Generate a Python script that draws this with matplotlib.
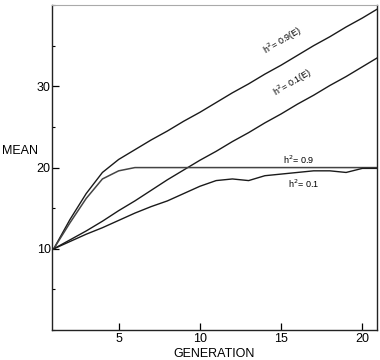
import matplotlib.pyplot as plt
from matplotlib.ticker import MultipleLocator

plt.rcParams['font.family'] = ['Liberation Sans', 'DejaVu Sans']

# Generations and mean values
generation = list(range(1, 22))
mean_h09_e = [10, 13.6, 16.8, 19.4, 21.0, 22.2, 23.4, 24.5, 25.7, 26.8, 28.0,
              29.2, 30.3, 31.5, 32.6, 33.8, 35.0, 36.1, 37.3, 38.4, 39.6]
mean_h01_e = [10, 11.1, 12.2, 13.4, 14.7, 15.9, 17.2, 18.5, 19.7, 20.9, 22.0,
              23.2, 24.3, 25.5, 26.6, 27.8, 28.9, 30.1, 31.2, 32.4, 33.6]
mean_h09 = [10, 13.2, 16.2, 18.6, 19.6, 20.0, 20.0, 20.0, 20.0, 20.0, 20.0,
            20.0, 20.0, 20.0, 20.0, 20.0, 20.0, 20.0, 20.0, 20.0, 20.0]
mean_h01 = [10, 10.9, 11.8, 12.6, 13.5, 14.4, 15.2, 15.9, 16.8, 17.7, 18.4,
            18.6, 18.4, 19.0, 19.2, 19.4, 19.6, 19.6, 19.4, 19.9, 19.9]

fig = plt.figure(figsize=(3.8, 3.6), dpi=100)
ax = fig.add_axes([0.137, 0.083, 0.855, 0.903])

ax.plot(generation, mean_h09_e, color='#1a1a1a', lw=1.0)
ax.plot(generation, mean_h01_e, color='#1a1a1a', lw=1.0)
ax.plot(generation, mean_h09, color='#444444', lw=1.1)
ax.plot(generation, mean_h01, color='#1a1a1a', lw=1.0)

ax.text(15.1, 35.6, 'h$^2$= 0.9(E)', fontsize=6.5, rotation=31, ha='center', va='center')
ax.text(15.7, 30.5, 'h$^2$= 0.1(E)', fontsize=6.5, rotation=31, ha='center', va='center')
ax.text(16.1, 21.0, 'h$^2$= 0.9', fontsize=6.5, ha='center', va='center')
ax.text(16.4, 18.0, 'h$^2$= 0.1', fontsize=6.5, ha='center', va='center')

ax.set_xlim(0.9, 20.9)
ax.set_ylim(0, 40)
ax.set_xticks([5, 10, 15, 20])
ax.set_yticks([10, 20, 30])
ax.yaxis.set_minor_locator(MultipleLocator(5))
ax.tick_params(axis='both', which='major', direction='in', length=5, width=0.9,
               labelsize=9, pad=2)
ax.tick_params(axis='y', which='minor', direction='in', length=2.5, width=0.8)
ax.tick_params(axis='y', which='major', pad=1)

for side in ['left', 'bottom', 'right']:
    ax.spines[side].set_color('#222222')
    ax.spines[side].set_linewidth(1.0)
ax.spines['top'].set_color('#aaaaaa')
ax.spines['top'].set_linewidth(0.8)

ax.set_xlabel('GENERATION', fontsize=9, labelpad=2)
fig.text(0.005, 0.58, 'MEAN', fontsize=9, ha='left', va='center')

fig.savefig('out.png', dpi=100)
plt.close()
